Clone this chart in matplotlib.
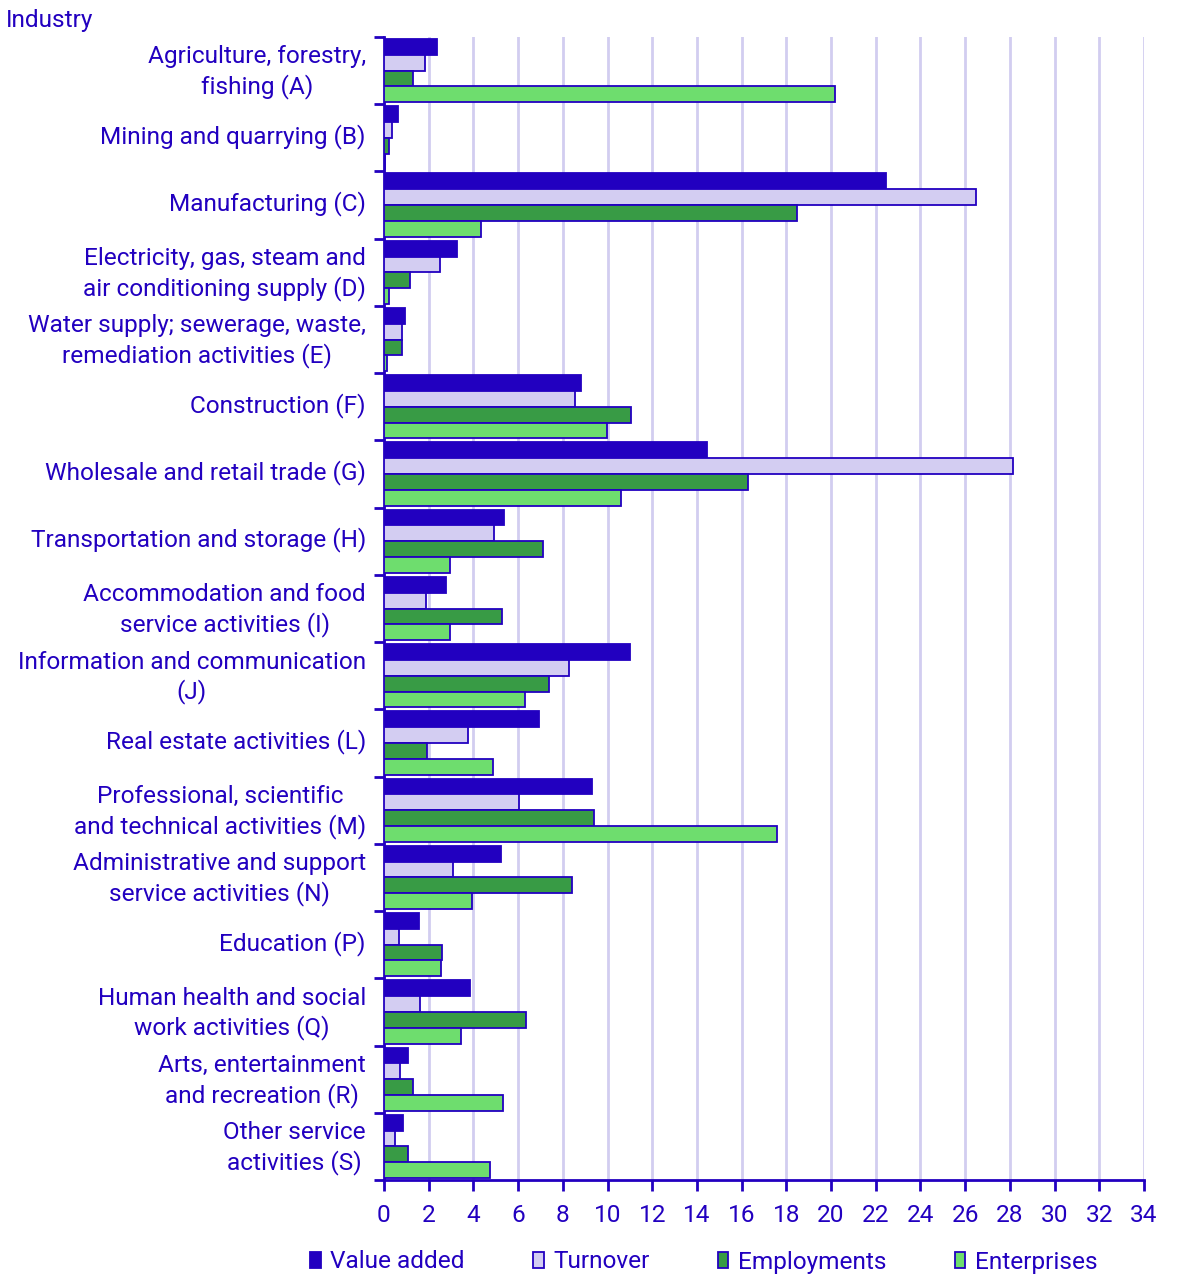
import matplotlib as mpl
import matplotlib.pyplot as plt
import numpy as np

from matplotlib.ticker import MultipleLocator, FixedLocator
from matplotlib.patches import Patch
from matplotlib.transforms import ScaledTranslation

mpl.use('Agg')

plt.rcParams['font.family'] = ['Roboto', 'DejaVu Sans']

industries = ["Agriculture, forestry,\nfishing (A)",
              "Mining and quarrying (B)",
              "Manufacturing (C)",
              "Electricity, gas, steam and\nair conditioning supply (D)",
              "Water supply; sewerage, waste,\nremediation activities (E)",
              "Construction (F)",
              "Wholesale and retail trade (G)",
              "Transportation and storage (H)",
              "Accommodation and food\nservice activities (I)",
              "Information and communication\n(J)",
              "Real estate activities (L)",
              "Professional, scientific\nand technical activities (M)",
              "Administrative and support\nservice activities (N)",
              "Education (P)",
              "Human health and social\nwork activities (Q)",
              "Arts, entertainment\nand recreation (R)",
              "Other service\nactivities (S)"]

value_added = [2.36, 0.61, 22.45, 3.25, 0.92, 8.80, 14.44, 5.36, 2.76, 10.99, 6.92, 9.29, 5.22, 1.55, 3.83, 1.06, 0.84]
turnover    = [1.85, 0.37, 26.49, 2.52, 0.82, 8.55, 28.13, 4.91, 1.88, 8.28, 3.74, 6.04, 3.09, 0.67, 1.61, 0.72, 0.49]
employments = [1.31, 0.24, 18.49, 1.18, 0.82, 11.05, 16.29, 7.11, 5.28, 7.38, 1.92, 9.38, 8.41, 2.60, 6.35, 1.30, 1.09]
enterprises = [20.18, 0.06, 4.33, 0.22, 0.13, 9.98, 10.60, 2.95, 2.95, 6.31, 4.88, 17.58, 3.92, 2.55, 3.44, 5.34, 4.74]

series_names = ["Value added", "Turnover", "Employments", "Enterprises"]

dark   = "#2200c0"
colors = [dark, "#d3cdf2", "#389b45", "#6edd6e"]
grid_c = "#d2cdf0"
fs     = 17.6

fig = plt.figure(figsize=(11.92, 12.78), dpi=100)
ax  = fig.add_axes([384/1192, 1 - 1180/1278, 760/1192, 1143/1278])

ypos = np.arange(len(industries))
h    = 0.235
all_series = [value_added, turnover, employments, enterprises]
for k, vals in enumerate(all_series):
    ax.barh(ypos + (k - 1.5) * h, vals, height=h, color=colors[k],
            edgecolor=dark, linewidth=1.3, label=series_names[k], zorder=3)

ax.set_ylim(len(industries) - 0.5, -0.5)
ax.set_xlim(0, 34)
ax.xaxis.set_major_locator(MultipleLocator(2))
ax.grid(axis='x', color=grid_c, linewidth=2, zorder=0)
ax.set_axisbelow(True)

ax.set_yticks(ypos)
ax.set_yticklabels(industries, multialignment='center', linespacing=1.3)
ax.yaxis.set_minor_locator(FixedLocator(np.arange(-0.5, len(industries), 1.0)))
ax.tick_params(axis='y', which='major', length=0, pad=13, labelsize=fs, labelcolor=dark)
ax.tick_params(axis='y', which='minor', length=7, width=2, color=dark, direction='out')
ax.tick_params(axis='x', which='major', length=8, width=2, color=dark, labelsize=fs,
               labelcolor=dark, pad=9)

# nudge the category labels up a little
shift = ScaledTranslation(0, 4/100, fig.dpi_scale_trans)
for lab in ax.get_yticklabels():
    lab.set_transform(lab.get_transform() + shift)

for side in ['top', 'right']:
    ax.spines[side].set_visible(False)
for side in ['left', 'bottom']:
    ax.spines[side].set_color(dark)
    ax.spines[side].set_linewidth(2)

fig.text(6/1192, 1 - 21/1278, "Industry", fontsize=fs, color=dark, va='center', ha='left')

handles = [Patch(facecolor=colors[k], edgecolor=dark, linewidth=1.3) for k in range(4)]
leg = fig.legend(handles, series_names, loc='center', bbox_to_anchor=(704/1192, 1 - 1262/1278),
                 ncol=4, frameon=False, fontsize=fs, handlelength=0.42, handleheight=0.65,
                 handletextpad=0.4, columnspacing=2.8)
for t in leg.get_texts():
    t.set_color(dark)

plt.savefig("out.png", dpi=100)
